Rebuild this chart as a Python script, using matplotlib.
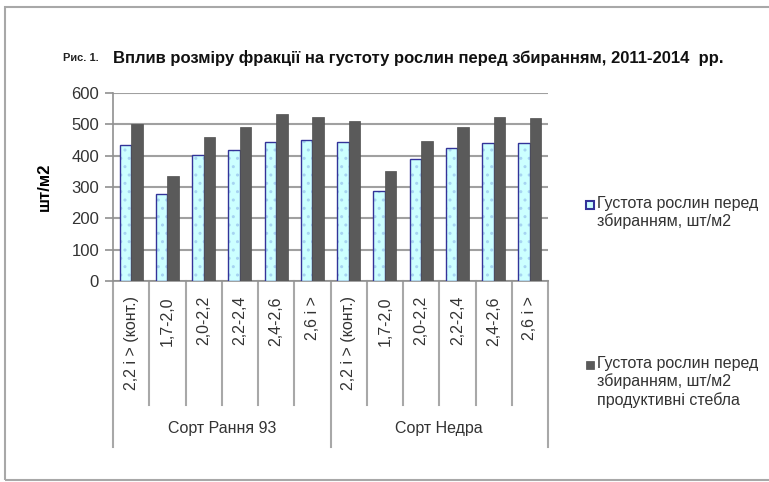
import matplotlib.pyplot as plt
from matplotlib.patches import Rectangle
import numpy as np

# data
fractions = ["2,2 і > (конт.)", "1,7-2,0", "2,0-2,2", "2,2-2,4", "2,4-2,6", "2,6 і >"]
varieties = ["Сорт Рання 93", "Сорт Недра"]
density_total = [434, 279, 401, 419, 445, 449,
                 444, 286, 388, 426, 442, 442]
density_productive = [502, 335, 458, 492, 532, 522,
                      512, 350, 447, 492, 523, 520]
series_names = ["Густота рослин перед\nзбиранням, шт/м2",
                "Густота рослин перед\nзбиранням, шт/м2\nпродуктивні стебла"]

W, H = 769, 482
plt.rcParams['font.family'] = ['Liberation Sans', 'DejaVu Sans']
plt.rcParams['hatch.linewidth'] = 1.0

fig = plt.figure(figsize=(W / 100, H / 100), dpi=100)

# outer frame like the pasted Excel chart
fig.patches.append(Rectangle((5 / W, 1 - 480 / H), 1.0, (480 - 7) / H,
                             transform=fig.transFigure, fill=False,
                             edgecolor="#a8a8a8", linewidth=1.5))

x0, x1, ytop, ybot = 113, 548, 93, 281
ax = fig.add_axes([x0 / W, 1 - ybot / H, (x1 - x0) / W, (ybot - ytop) / H])

n = len(density_total)
centers = np.arange(n) + 0.5
bw = 0.32
# light bars: faint dotted fill, then the dark blue outline on top
ax.bar(centers - bw / 2, density_total, bw, color="#ccffff",
       edgecolor="#a6d4f2", linewidth=0, hatch="..", zorder=3)
ax.bar(centers - bw / 2, density_total, bw, fill=False,
       edgecolor="#333399", linewidth=1, zorder=3)
ax.bar(centers + bw / 2, density_productive, bw, color="#5a5a5a",
       edgecolor="#505050", linewidth=0.5, zorder=3)

ax.set_xlim(0, n)
ax.set_ylim(0, 600)
ax.set_yticks(range(0, 601, 100))
ax.yaxis.grid(True, color="#a0a0a0", linewidth=1.5, zorder=0)
ax.tick_params(axis="y", length=6, width=1.2, color="#909090",
               labelsize=12, labelcolor="#333333", pad=4)
ax.set_xticks([])
for s in ["top", "right"]:
    ax.spines[s].set_visible(False)
for s in ["left", "bottom"]:
    ax.spines[s].set_color("#909090")
    ax.spines[s].set_linewidth(1.2)

# multi-level category axis
ph = ybot - ytop
labels = fractions * len(varieties)
for i, lab in enumerate(labels):
    ax.text(centers[i], -15 / ph, lab, rotation=90, ha="center", va="top",
            fontsize=11.5, color="#333333", transform=ax.get_xaxis_transform())
for k in range(n + 1):
    depth = 166 if k % len(fractions) == 0 else 124
    ax.plot([k, k], [0, -depth / ph], color="#a8a8a8", linewidth=1.5,
            transform=ax.get_xaxis_transform(), clip_on=False)
for j, v in enumerate(varieties):
    ax.text(len(fractions) * (j + 0.5), -147 / ph, v, ha="center", va="center",
            fontsize=11.5, color="#333333", transform=ax.get_xaxis_transform())

ax.set_ylabel("шт/м2", fontsize=12, fontweight="bold", labelpad=14)

# title
fig.text(63 / W, 1 - 58 / H, "Рис. 1.", fontsize=8, fontweight="bold",
         va="center", ha="left", color="#222222")
fig.text(113 / W, 1 - 58 / H,
         "Вплив розміру фракції на густоту рослин перед збиранням, 2011-2014  рр.",
         fontsize=12, fontweight="bold", va="center", ha="left", color="#111111")

# legend, drawn entry by entry
leg_y = [205, 365]
styles = [dict(facecolor="#ccffff", edgecolor="#333399", linewidth=1.5),
          dict(facecolor="#5a5a5a", edgecolor="#505050", linewidth=0.5)]
for name, yy, st in zip(series_names, leg_y, styles):
    fig.patches.append(Rectangle((586 / W, 1 - (yy + 4) / H), 8 / W, 8 / H,
                                 transform=fig.transFigure, **st))
    fig.text(597 / W, 1 - (yy - 9) / H, name, fontsize=11.5, va="top", ha="left",
             color="#333333", linespacing=1.2)

fig.savefig("out.png", dpi=100)
